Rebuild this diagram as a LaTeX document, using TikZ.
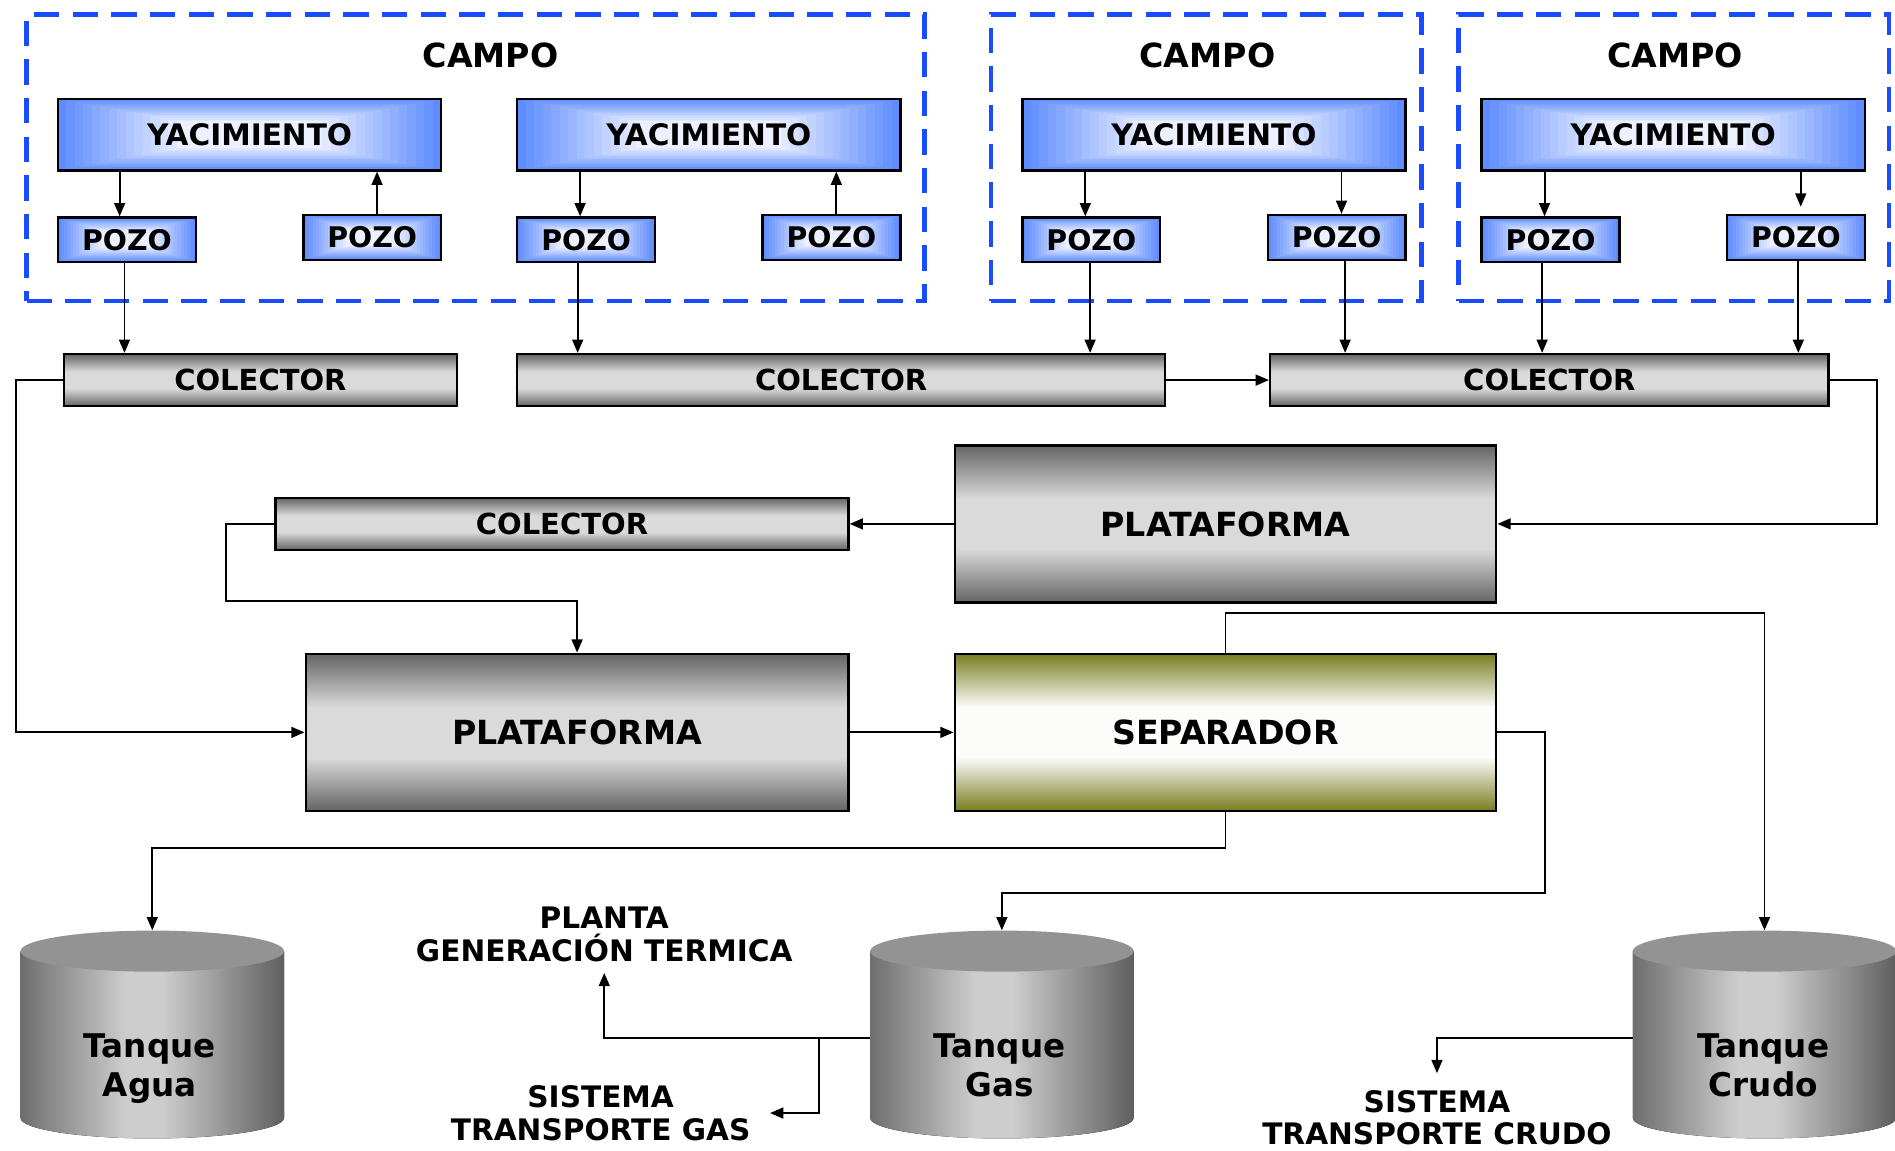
\documentclass[tikz,border=0pt]{standalone}
\usepackage{fontspec}
\setmainfont{DejaVu Sans}
\usetikzlibrary{arrows.meta,calc}

% palette
\definecolor{yacBlue}{RGB}{95,140,255}
\definecolor{yacLight}{RGB}{236,240,255}
\definecolor{campoBlue}{RGB}{25,75,255}
\definecolor{gDark}{RGB}{100,100,100}
\definecolor{gLight}{RGB}{218,218,218}
\definecolor{sepOlive}{RGB}{120,125,32}
\definecolor{sepLight}{RGB}{252,252,250}
\definecolor{tkSide}{RGB}{110,110,110}
\definecolor{tkMid}{RGB}{205,205,205}
\definecolor{tkDark}{RGB}{95,95,95}
\definecolor{tkTop}{RGB}{147,147,147}

% metallic bars (light band in the middle)
\pgfdeclareverticalshading{greybar}{100bp}{color(0bp)=(gDark); color(25bp)=(gDark); color(42bp)=(gLight); color(58bp)=(gLight); color(75bp)=(gDark); color(100bp)=(gDark)}
\pgfdeclareverticalshading{olivebar}{100bp}{color(0bp)=(sepOlive); color(25bp)=(sepOlive); color(42bp)=(sepLight); color(58bp)=(sepLight); color(75bp)=(sepOlive); color(100bp)=(sepOlive)}
% tank body, lit slightly left of centre
\pgfdeclarehorizontalshading{tankbody}{100bp}{color(0bp)=(tkSide); color(25bp)=(tkSide); color(45bp)=(tkMid); color(52bp)=(tkMid); color(75bp)=(tkDark); color(100bp)=(tkDark)}

\tikzset{
  bluegrad/.style={path picture={
    \foreach \k in {0,...,14}{
      \pgfmathsetmacro\gf{1-0.62*\k/14}
      \pgfmathtruncatemacro\gp{100*\k/14}
      \fill[yacLight!\gp!yacBlue]
        ($(path picture bounding box.center)!\gf!(path picture bounding box.south west)$) rectangle
        ($(path picture bounding box.center)!\gf!(path picture bounding box.north east)$);
    }}},
  campobox/.style={draw=campoBlue, line width=3.8pt, dash pattern=on 21pt off 11pt, minimum height=237, inner sep=0},
  campotxt/.style={inner sep=0, font=\fontsize{27.5}{32}\selectfont\bfseries},
  yacbox/.style={draw, line width=2pt, fill=yacBlue, bluegrad, minimum width=317, minimum height=59, inner sep=0,
    font=\fontsize{24.5}{28}\selectfont\bfseries},
  pozobox/.style={draw, line width=2pt, fill=yacBlue, bluegrad, minimum width=114, minimum height=37, inner sep=0,
    font=\fontsize{23.5}{28}\selectfont\bfseries},
  colbox/.style={draw, line width=2pt, shading=greybar, minimum height=43, inner sep=0,
    font=\fontsize{24}{28}\selectfont\bfseries},
  platbox/.style={draw, line width=2pt, shading=greybar, minimum width=448, minimum height=130, inner sep=0,
    font=\fontsize{27.5}{32}\selectfont\bfseries},
  sepbox/.style={draw, line width=2pt, shading=olivebar, minimum width=448, minimum height=130, inner sep=0,
    font=\fontsize{27.5}{32}\selectfont\bfseries},
  tanknode/.style={minimum width=218, minimum height=178, inner sep=0},
  tanktxt/.style={align=center, inner sep=0, font=\fontsize{27}{32}\selectfont\bfseries},
  outtxt/.style={align=center, inner sep=0, font=\fontsize{24.5}{27}\selectfont\bfseries},
  arr/.style={draw, line width=1.6pt, -{Triangle[length=11pt,width=9pt]}},
}

% cylinder tank centred at x = #1
\newcommand\drawtank[1]{%
  \fill[shading=tankbody] ({#1-109},787) -- ({#1-109},925)
     arc[start angle=180, end angle=0, x radius=109, y radius=17]
     -- ({#1+109},787) -- cycle;
  \fill[tkTop] (#1,787) ellipse [x radius=109, y radius=17];
}

\begin{document}
\begin{tikzpicture}[x=1pt, y=-1pt]
\useasboundingbox (0,0) rectangle (1568,952);

% ---- fields ----
\node[campobox, minimum width=743] (campo1) at (393.5,130.5) {};
\node[campobox, minimum width=356] (campo2) at (998,130.5) {};
\node[campobox, minimum width=356] (campo3) at (1385,130.5) {};
\node[campotxt] (campoT1) at (406,46) {CAMPO};
\node[campotxt] (campoT2) at (999,46) {CAMPO};
\node[campotxt] (campoT3) at (1386,46) {CAMPO};

% ---- reservoirs and wells ----
\node[yacbox] (yac1) at (206.5,111.5) {YACIMIENTO};
\node[yacbox] (yac2) at (586.5,111.5) {YACIMIENTO};
\node[yacbox] (yac3) at (1004.5,111.5) {YACIMIENTO};
\node[yacbox] (yac4) at (1384.5,111.5) {YACIMIENTO};

\node[pozobox] (pozo1a) at (105,198.5) {POZO};
\node[pozobox] (pozo1b) at (308,196.5) {POZO};
\node[pozobox] (pozo2a) at (485,198.5) {POZO};
\node[pozobox] (pozo2b) at (688,196.5) {POZO};
\node[pozobox] (pozo3a) at (903,198.5) {POZO};
\node[pozobox] (pozo3b) at (1106,196.5) {POZO};
\node[pozobox] (pozo4a) at (1283,198.5) {POZO};
\node[pozobox] (pozo4b) at (1486,196.5) {POZO};

% ---- gathering and processing ----
\node[colbox, minimum width=325] (col1) at (215.5,314.5) {COLECTOR};
\node[colbox, minimum width=536] (col2) at (696,314.5) {COLECTOR};
\node[colbox, minimum width=462] (col3) at (1282,314.5) {COLECTOR};
\node[colbox, minimum width=474] (col4) at (465,433.5) {COLECTOR};

\node[platbox] (plat1) at (1014,433.5) {PLATAFORMA};
\node[platbox, minimum width=449] (plat2) at (477.5,606) {PLATAFORMA};
\node[sepbox] (sep) at (1014,606) {SEPARADOR};

% ---- tanks ----
\drawtank{126}
\drawtank{829}
\drawtank{1460}
\node[tanknode] (tAgua) at (126,859) {};
\node[tanknode] (tGas) at (829,859) {};
\node[tanknode] (tCrudo) at (1460,859) {};
\node[tanktxt, anchor=north] (lAgua) at (124,855) {Tanque\\Agua};
\node[tanktxt, anchor=north] (lGas) at (827,855) {Tanque\\Gas};
\node[tanktxt, anchor=north] (lCrudo) at (1459,855) {Tanque\\Crudo};

% ---- destinations ----
\node[outtxt, anchor=south] (planta) at (500,796) {PLANTA\\GENERACIÓN TERMICA};
\node[outtxt, anchor=north] (sistGas) at (497,898) {SISTEMA\\TRANSPORTE GAS};
\node[outtxt, anchor=north] (sistCrudo) at (1189,902) {SISTEMA\\TRANSPORTE CRUDO};

% ---- reservoir / well links ----
\coordinate (k1) at ([xshift=-6pt]pozo1a.north);
\coordinate (k2) at ([xshift=4pt]pozo1b.north);
\coordinate (k3) at ([xshift=-5pt]pozo2a.north);
\coordinate (k4) at ([xshift=4pt]pozo2b.north);
\coordinate (k5) at ([xshift=-5pt]pozo3a.north);
\coordinate (k6) at ([xshift=4pt]pozo3b.north);
\coordinate (k7) at ([xshift=-5pt]pozo4a.north);
\coordinate (k8) at ([xshift=4pt]pozo4b.north);
\draw[arr] (k1 |- yac1.south) -- (k1);
\draw[arr] (k2) -- (k2 |- yac1.south);
\draw[arr] (k3 |- yac2.south) -- (k3);
\draw[arr] (k4) -- (k4 |- yac2.south);
\draw[arr] (k5 |- yac3.south) -- (k5);
\draw[arr] (k6 |- yac3.south) -- (k6);
\draw[arr] (k7 |- yac4.south) -- (k7);
\draw[arr, shorten >=6pt] (k8 |- yac4.south) -- (k8);

% ---- wells to collectors ----
\coordinate (w1) at ([xshift=-2pt]pozo1a.south);
\coordinate (w2) at ([xshift=-7pt]pozo2a.south);
\coordinate (w3) at ([xshift=-1pt]pozo3a.south);
\coordinate (w4) at ([xshift=7pt]pozo3b.south);
\coordinate (w5) at ([xshift=-7pt]pozo4a.south);
\coordinate (w6) at ([xshift=2pt]pozo4b.south);
\draw[arr] (w1) -- (w1 |- col1.north);
\draw[arr] (w2) -- (w2 |- col2.north);
\draw[arr] (w3) -- (w3 |- col2.north);
\draw[arr] (w4) -- (w4 |- col3.north);
\draw[arr] (w5) -- (w5 |- col3.north);
\draw[arr] (w6) -- (w6 |- col3.north);

% ---- process flow ----
\draw[arr] (col2.east) -- (col3.west);
\draw[arr] (col3.east) -- ++(39,0) |- (plat1.east);
\draw[arr] (plat1.west) -- (col4.east);
\draw[arr] (col4.west) -- ++(-40,0) -- ++(0,64) -| (plat2.north);
\draw[arr] (col1.west) -- ++(-39,0) |- (plat2.west);
\draw[arr] (plat2.east) -- (sep.west);
\draw[arr] (sep.north) -- ++(0,-33) -| (tCrudo.north);
\draw[arr] (sep.east) -- ++(39,0) -- ++(0,133) -| (tGas.north);
\draw[arr] (sep.south) -- ++(0,30) -| (tAgua.north);

% ---- tank outlets ----
\draw[arr] (tGas.west) -| ([yshift=-9pt]planta.south);
\draw[arr] ([xshift=-42pt]tGas.west) |- ([xshift=16pt]sistGas.east);
\draw[arr] (tCrudo.west) -| ([yshift=14pt]sistCrudo.north);
\end{tikzpicture}
\end{document}
